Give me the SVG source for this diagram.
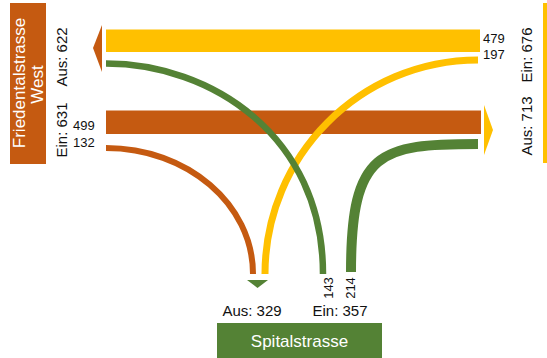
<svg xmlns="http://www.w3.org/2000/svg" width="547" height="358" viewBox="0 0 547 358">
<style>
.lbl{font-family:"Liberation Sans",Arial,sans-serif;font-size:15px;fill:#111}
.num{font-family:"Liberation Sans",Arial,sans-serif;font-size:13px;fill:#111}
.title{font-family:"Liberation Sans",Arial,sans-serif;font-size:17px;fill:#fff}
.o{fill:#C55A11}.y{fill:#FFC000}.g{fill:#548235}
.c{fill:none;stroke-linecap:butt}
</style>
<rect width="547" height="358" fill="#fff"/>
<g id="connectors">
<rect class="y" x="106" y="29.5" width="374" height="22.5"/>
<rect class="o" x="106" y="110.5" width="375" height="23.5"/>
<path class="c" d="M106,148 C187,148 253,204 253,274" stroke="#C55A11" stroke-width="6"/>
<path class="c" d="M265,274 C265,156 360,60 478,60" stroke="#FFC000" stroke-width="7"/>
<path class="c" d="M106,63.5 C210,63.5 323,135 323,274" stroke="#548235" stroke-width="6.5"/>
<path class="c" d="M478,144 C380,144 351,150 351,272" stroke="#548235" stroke-width="10"/>
<path class="o" d="M102,25 L93,48 L102,72 Z"/>
<path class="y" d="M484,105 L493,130 L484,155 Z"/>
<path class="g" d="M247,280 L268,280 L257.5,288 Z"/>
</g>
<g id="node-west">
<rect class="o" x="10" y="3" width="36" height="161"/>
<text class="title" text-anchor="middle" transform="translate(25,83) rotate(-90)">Friedentalstrasse</text>
<text class="title" text-anchor="middle" transform="translate(43,84.5) rotate(-90)">West</text>
<text class="lbl" text-anchor="middle" transform="translate(67,57) rotate(-90)">Aus: 622</text>
<text class="lbl" text-anchor="middle" transform="translate(67,130) rotate(-90)">Ein: 631</text>
<text class="num" x="73" y="130">499</text>
<text class="num" x="73" y="147">132</text>
</g>
<g id="node-east">
<rect class="y" x="543" y="3" width="40" height="160"/>
<text class="lbl" text-anchor="middle" transform="translate(532,55) rotate(-90)">Ein: 676</text>
<text class="lbl" text-anchor="middle" transform="translate(532,126) rotate(-90)">Aus: 713</text>
<text class="num" x="483" y="43">479</text>
<text class="num" x="483" y="59">197</text>
</g>
<g id="node-spital">
<rect class="g" x="217" y="323" width="165" height="40"/>
<text class="title" text-anchor="middle" x="299.5" y="347">Spitalstrasse</text>
<text class="lbl" text-anchor="middle" x="252" y="316">Aus: 329</text>
<text class="lbl" text-anchor="middle" x="340" y="316">Ein: 357</text>
<text class="num" text-anchor="middle" transform="translate(333,288) rotate(-90)">143</text>
<text class="num" text-anchor="middle" transform="translate(355,288) rotate(-90)">214</text>
</g>
</svg>
